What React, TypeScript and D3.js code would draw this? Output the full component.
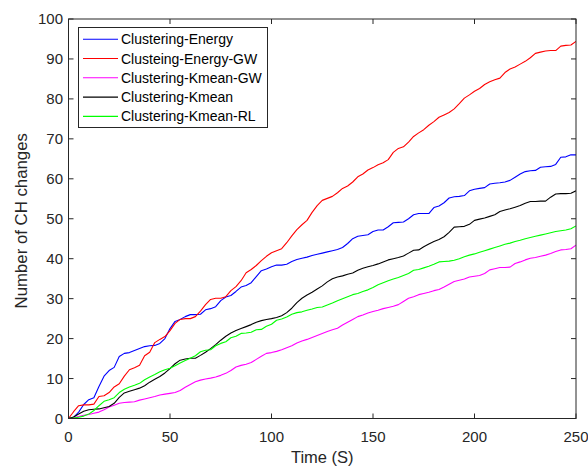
import React from 'react';
import * as d3 from 'd3';

// Sampling interval of the simulation log (seconds)
const timeStep = 2.5;

const seriesNames = [
  'Clustering-Energy',
  'Clusteing-Energy-GW',
  'Clustering-Kmean-GW',
  'Clustering-Kmean',
  'Clustering-Kmean-RL',
];

const clusteringEnergy = [
  0, 0.3, 1.6, 3.5, 4.7, 5.2, 8, 10.6, 12, 12.8,
  15.5, 16.3, 16.5, 17, 17.5, 18, 18.2, 18.3, 18.8, 20,
  22.5, 24.3, 24.8, 25.5, 26, 26, 26.1, 27.2, 27.5, 28,
  29.5, 30.4, 30.8, 31.8, 32.9, 33.3, 34, 35.5, 37, 37.4,
  38, 38.4, 38.4, 38.6, 39.3, 39.8, 40.1, 40.4, 40.8, 41.1,
  41.4, 41.7, 42, 42.3, 42.8, 43.8, 45, 45.6, 45.8, 46,
  46.8, 47.2, 47.2, 48, 49, 49.1, 49.2, 50, 51, 51.3,
  51.3, 51.3, 52.8, 53.2, 54, 55.2, 55.5, 55.6, 55.8, 57,
  57.4, 57.6, 57.8, 58.7, 58.9, 59, 59.2, 59.6, 60.4, 61.2,
  61.8, 62, 62.1, 62.9, 63, 63.1, 63.6, 65.4, 65.5, 66,
  66,
];

const clusteingEnergyGW = [
  0, 1.7, 3.2, 3.4, 3.4, 3.6, 5.5, 5.7, 6.5, 7.9,
  8.7, 10.6, 12.2, 12.7, 13.3, 15.7, 16.6, 19, 19.8, 20.5,
  22, 23.8, 24.8, 25, 25, 25.5, 26.9, 28.5, 29.8, 30.1,
  30.1, 30.5, 32, 33, 34.5, 36.5, 37.3, 38.3, 39.5, 40.6,
  41.5, 42, 42.5, 44, 45.7, 47.3, 48.5, 49.6, 51.6, 53.3,
  54.6, 55.1, 55.6, 56.5, 57.6, 58.2, 59.2, 60.5, 61.2, 62.2,
  62.8, 63.5, 64, 64.8, 66.6, 67.6, 68, 69.2, 70.6, 71.5,
  72.3, 73.4, 74.3, 75.4, 76, 76.6, 77.5, 78.8, 80.2, 81,
  81.9, 82.6, 83.6, 84.3, 84.8, 85.2, 86.6, 87.5, 88, 88.7,
  89.4, 90.3, 91.4, 91.7, 92, 92.1, 92.1, 93.2, 93.4, 93.5,
  94.4,
];

const clusteringKmeanGW = [
  0, 0.2, 0.5, 0.8, 1, 1.3, 1.6, 2.2, 2.9, 3.3,
  3.8, 4, 4.1, 4.2, 4.6, 4.9, 5.2, 5.5, 5.9, 6.1,
  6.3, 6.5, 7, 7.8, 8.5, 9.2, 9.6, 9.9, 10.1, 10.4,
  10.8, 11.3, 12, 12.9, 13.3, 13.6, 14, 14.8, 15.6, 16.3,
  16.5, 16.8, 17.2, 17.7, 18.2, 18.9, 19.4, 19.8, 20.3, 20.8,
  21.3, 21.8, 22.2, 22.6, 23.4, 24.1, 24.8, 25.5, 25.9, 26.4,
  26.8, 27.1, 27.5, 27.8, 28.1, 28.5, 29.3, 30.1, 30.5, 31,
  31.3, 31.6, 32, 32.3, 32.9, 33.6, 34.3, 34.6, 34.9, 35.4,
  35.6, 35.8, 36.3, 37.2, 37.5, 37.8, 37.8, 37.9, 38.8, 39.2,
  39.7, 40.1, 40.3, 40.6, 40.9, 41.3, 41.8, 42.2, 42.3, 42.5,
  43.4,
];

const clusteringKmean = [
  0, 0.4, 1.1, 1.8, 2.2, 2.3, 2.4, 2.7, 3, 3.8,
  5.3, 6.4, 6.8, 7.2, 7.6, 8.2, 9.1, 9.8, 10.5, 11.4,
  12.5, 13.7, 14.6, 14.9, 15.1, 15.1, 15.8, 16.6, 17.5, 18.5,
  19.6, 20.6, 21.4, 22, 22.5, 23, 23.5, 24.1, 24.5, 24.8,
  25, 25.3, 25.7, 26.5, 27.6, 29, 30.1, 30.9, 31.6, 32.4,
  33.2, 34.2, 35, 35.4, 35.7, 36.1, 36.4, 37.1, 37.6, 38,
  38.3, 38.7, 39.2, 39.7, 40, 40.3, 40.7, 41.4, 42.1, 42.2,
  43, 43.7, 44.3, 44.8, 45.5, 46.6, 47.9, 48, 48.1, 48.6,
  49.6, 49.9, 50.2, 50.6, 51, 51.8, 52.2, 52.5, 52.9, 53.3,
  53.9, 54.3, 54.3, 54.4, 54.4, 55.4, 56.2, 56.3, 56.3, 56.4,
  57,
];

const clusteringKmeanRL = [
  0, 0.1, 0.3, 0.6, 1.1, 2, 3.2, 4.3, 4.7, 5.2,
  6.5, 7.3, 7.9, 8.3, 8.8, 9.7, 10.4, 11, 11.7, 12.2,
  12.6, 13.2, 13.9, 14.5, 15.1, 15.7, 16.7, 17.1, 17.2, 18.2,
  18.8, 19.2, 20.2, 20.6, 21.3, 21.4, 21.6, 22.2, 22.3, 23.1,
  23.6, 24.6, 24.9, 25.4, 26.1, 26.5, 26.7, 27.1, 27.4, 27.8,
  27.9, 28.4, 28.9, 29.5, 30, 30.5, 31, 31.3, 31.8, 32.2,
  32.8, 33.5, 34, 34.5, 34.9, 35.3, 35.8, 36.3, 37.1, 37.3,
  37.7, 38.1, 38.6, 39.2, 39.3, 39.4, 39.6, 40, 40.5, 40.9,
  41.2, 41.6, 42, 42.4, 42.8, 43.2, 43.6, 43.9, 44.3, 44.6,
  45, 45.3, 45.6, 45.9, 46.2, 46.5, 46.8, 47, 47.2, 47.5,
  48.2,
];

const seriesColors = ['#0000ff', '#ff0000', '#ff00ff', '#000000', '#00ff00'];
const seriesValues = [
  clusteringEnergy,
  clusteingEnergyGW,
  clusteringKmeanGW,
  clusteringKmean,
  clusteringKmeanRL,
];

const xTicks = [0, 50, 100, 150, 200, 250];
const yTicks = [0, 10, 20, 30, 40, 50, 60, 70, 80, 90, 100];

const W = 588;
const H = 468;
const left = 68.5;
const right = 576;
const top = 19;
const bottom = 418.5;

const axisColor = '#262626';
const font = '"Liberation Sans", Arial, Helvetica, sans-serif';

export default function App() {
  const x = d3.scaleLinear().domain([0, 250]).range([left, right]);
  const y = d3.scaleLinear().domain([0, 100]).range([bottom, top]);

  const line = d3
    .line<number>()
    .x((_, i) => x(i * timeStep))
    .y((d) => y(d));

  const tickLen = 5;

  const legendX = 78.5;
  const legendY = 27.5;
  const legendW = 189;
  const legendH = 100;
  const rowH = 19.3;

  return (
    <svg
      width={W}
      height={H}
      style={{ position: 'fixed', left: 0, top: 0, background: '#fff' }}
      fontFamily={font}
    >
      <rect x={0} y={0} width={W} height={H} fill="#fff" />

      <defs>
        <clipPath id="plot-area">
          <rect x={left} y={top} width={right - left} height={bottom - top} />
        </clipPath>
      </defs>

      {/* series */}
      <g clipPath="url(#plot-area)">
        {seriesValues.map((vals, k) => (
          <path
            key={seriesNames[k]}
            d={line(vals) ?? ''}
            fill="none"
            stroke={seriesColors[k]}
            strokeWidth={1.1}
            strokeLinejoin="round"
          />
        ))}
      </g>

      {/* axes box */}
      <rect
        x={left}
        y={top}
        width={right - left}
        height={bottom - top}
        fill="none"
        stroke={axisColor}
        strokeWidth={1}
      />

      {/* x ticks */}
      {xTicks.map((t) => (
        <g key={`x${t}`}>
          <line x1={x(t)} x2={x(t)} y1={bottom} y2={bottom - tickLen} stroke={axisColor} />
          <line x1={x(t)} x2={x(t)} y1={top} y2={top + tickLen} stroke={axisColor} />
          <text
            x={x(t)}
            y={442}
            textAnchor="middle"
            fontSize={15}
            fill={axisColor}
          >
            {t}
          </text>
        </g>
      ))}

      {/* y ticks */}
      {yTicks.map((t) => (
        <g key={`y${t}`}>
          <line x1={left} x2={left + tickLen} y1={y(t)} y2={y(t)} stroke={axisColor} />
          <line x1={right} x2={right - tickLen} y1={y(t)} y2={y(t)} stroke={axisColor} />
          <text
            x={63}
            y={y(t)}
            dy="0.36em"
            textAnchor="end"
            fontSize={15}
            fill={axisColor}
          >
            {t}
          </text>
        </g>
      ))}

      {/* axis labels */}
      <text x={(left + right) / 2} y={463} textAnchor="middle" fontSize={16.5} fill={axisColor}>
        Time (S)
      </text>
      <text
        transform={`translate(27, ${(top + bottom) / 2 + 2}) rotate(-90)`}
        textAnchor="middle"
        fontSize={16.8}
        fill={axisColor}
      >
        Number of CH changes
      </text>

      {/* legend */}
      <rect
        x={legendX}
        y={legendY}
        width={legendW}
        height={legendH}
        fill="#fff"
        stroke={axisColor}
        strokeWidth={1}
      />
      {seriesNames.map((name, k) => {
        const cy = 39.2 + k * rowH;
        return (
          <g key={`lg${name}`}>
            <line x1={83} x2={118} y1={cy} y2={cy} stroke={seriesColors[k]} strokeWidth={1.1} />
            <text x={121} y={cy} dy="0.36em" fontSize={14} fill="#000">
              {name}
            </text>
          </g>
        );
      })}
    </svg>
  );
}
